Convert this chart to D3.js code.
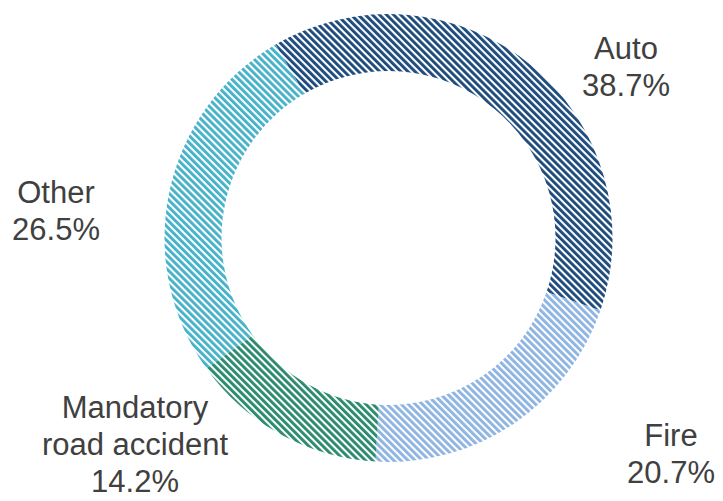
<!DOCTYPE html>
<html>
<head>
<meta charset="utf-8">
<script src="https://cdn.jsdelivr.net/npm/d3@7"></script>
<style>
  html, body { margin: 0; padding: 0; background: #fff; }
  svg { display: block; }
  text { font-family: "Liberation Sans", Arial, sans-serif; fill: #404040; }
</style>
</head>
<body>
<svg id="chart" width="723" height="501"></svg>
<script>
// Premium mix by line of business (%)
const categories = ["Auto", "Fire", "Mandatory road accident", "Other"];
const shares = [38.7, 20.7, 14.2, 26.5];
const labelLines = [["Auto"], ["Fire"], ["Mandatory", "road accident"], ["Other"]];
const colors = ["#1c4a7c", "#8db4e2", "#2a8a6d", "#45b2c9"];

const cx = 388.5, cy = 238;
const outerR = 224, innerR = 167;
const startDeg = -30.3;
const fontSize = 31, lineH = 37;

// label anchor points (centre x, first baseline y)
const labelPos = [[626, 59], [671, 446], [135, 418], [56, 203]];

const svg = d3.select("#chart");
const defs = svg.append("defs");

// diagonal hatch fill per category
colors.forEach((c, i) => {
  const p = defs.append("pattern")
    .attr("id", "hatch" + i)
    .attr("patternUnits", "userSpaceOnUse")
    .attr("width", 5).attr("height", 5)
    .attr("patternTransform", "rotate(-45)");
  p.append("rect").attr("width", 5).attr("height", 5).attr("fill", "#fff");
  p.append("rect").attr("x", 0).attr("width", 2.9).attr("height", 5).attr("fill", c);
});

const rad = startDeg * Math.PI / 180;
const pie = d3.pie().sort(null).value(d => d)
  .startAngle(rad).endAngle(rad + 2 * Math.PI);
const arc = d3.arc().innerRadius(innerR).outerRadius(outerR);

const g = svg.append("g").attr("transform", `translate(${cx},${cy})`);
g.selectAll("path.slice")
  .data(pie(shares))
  .join("path")
  .attr("class", "slice")
  .attr("d", arc)
  .attr("fill", (d, i) => `url(#hatch${i})`);

// category labels with share
const labels = svg.selectAll("text.lbl")
  .data(categories)
  .join("text")
  .attr("class", "lbl")
  .attr("text-anchor", "middle")
  .attr("font-size", fontSize);

labels.each(function (d, i) {
  const t = d3.select(this);
  const lines = labelLines[i].concat([shares[i].toFixed(1) + "%"]);
  lines.forEach((ln, k) => {
    t.append("tspan")
      .attr("x", labelPos[i][0])
      .attr("y", labelPos[i][1] + k * lineH)
      .text(ln);
  });
});
</script>
</body>
</html>
